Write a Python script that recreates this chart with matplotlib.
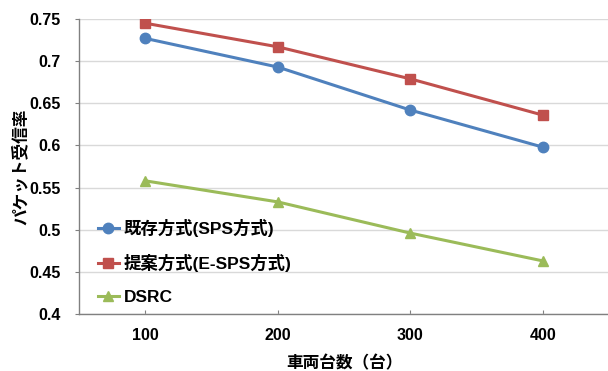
import matplotlib
matplotlib.use("Agg")
import matplotlib.pyplot as plt

plt.rcParams['font.family'] = ['Liberation Sans', 'Noto Sans CJK JP']

vehicles = ["100", "200", "300", "400"]
existing_sps = [0.727, 0.693, 0.642, 0.598]
proposed_esps = [0.745, 0.717, 0.679, 0.636]
dsrc = [0.558, 0.533, 0.496, 0.463]
y_ticks = [0.4, 0.45, 0.5, 0.55, 0.6, 0.65, 0.7, 0.75]
y_tick_labels = ["0.4", "0.45", "0.5", "0.55", "0.6", "0.65", "0.7", "0.75"]

fig = plt.figure(figsize=(6.08, 3.71), dpi=100)
ax = fig.add_axes([79/608, 1 - 314/371, 530/608, 295/371])

x = list(range(1, len(vehicles) + 1))
ax.plot(x, existing_sps, color="#4F81BD", marker="o", markersize=7.5, lw=2.2,
        label="既存方式(SPS方式)", zorder=3)
ax.plot(x, proposed_esps, color="#C0504D", marker="s", markersize=7.5, lw=2.2,
        label="提案方式(E-SPS方式)", zorder=3)
ax.plot(x, dsrc, color="#9BBB59", marker="^", markersize=7.5, lw=2.2,
        label="DSRC", zorder=3)

ax.set_xlim(0.5, len(vehicles) + 0.5)
ax.set_ylim(0.4, 0.75)
ax.set_xticks(x)
ax.set_xticklabels(vehicles)
ax.set_yticks(y_ticks)
ax.set_yticklabels(y_tick_labels)

ax.grid(axis="y", color="#d9d9d9", lw=1)
ax.set_axisbelow(True)
for side in ("top", "right"):
    ax.spines[side].set_visible(False)
for side in ("left", "bottom"):
    ax.spines[side].set_color("#808080")
    ax.spines[side].set_linewidth(1)

ax.tick_params(axis="y", direction="out", length=3, color="#808080",
               labelsize=11.5, pad=10)
ax.tick_params(axis="x", direction="in", length=3, color="#808080",
               labelsize=11.5, pad=10)
for lbl in ax.get_xticklabels() + ax.get_yticklabels():
    lbl.set_fontweight("bold")

ax.set_xlabel("車両台数（台）", fontsize=12, fontweight="bold", labelpad=9)
ax.set_ylabel("パケット受信率", fontsize=12, fontweight="bold", labelpad=1)

leg = ax.legend(loc="upper left", bbox_to_anchor=(0.022, 0.347), frameon=False,
                prop={"size": 12.5, "weight": "bold"}, handlelength=1.25,
                handletextpad=0.25, labelspacing=1.0, borderaxespad=0.0)

fig.savefig("out.png", dpi=100)
